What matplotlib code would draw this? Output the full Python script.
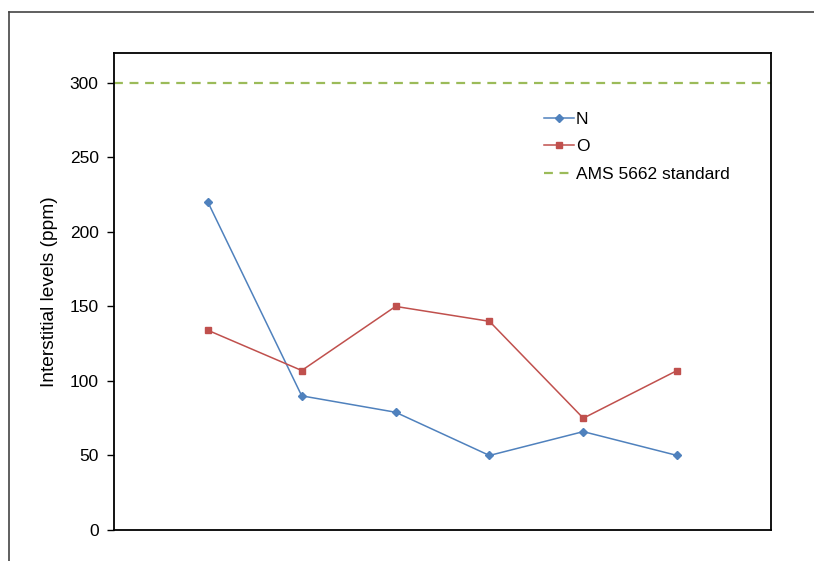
import matplotlib
matplotlib.use("Agg")
import matplotlib.pyplot as plt
from matplotlib.lines import Line2D

plt.rcParams['font.family'] = ['Liberation Sans', 'DejaVu Sans']

positions = [1, 2, 3, 4, 5, 6]
n_values = [220, 90, 79, 50, 66, 50]
o_values = [134, 107, 150, 140, 75, 107]
standard = 300
yticks = [0, 50, 100, 150, 200, 250, 300]

W, H = 814, 561
fig = plt.figure(figsize=(W / 100, H / 100), dpi=100)
ax = fig.add_axes([114 / W, 1 - 530 / H, (771 - 114) / W, (530 - 53) / H])

ax.plot(positions, n_values, color='#4F81BD', marker='D', markersize=4, lw=1.1, label='N')
ax.plot(positions, o_values, color='#C0504D', marker='s', markersize=5, lw=1.1, label='O')
ax.axhline(standard, color='#9BBB59', lw=1.6, ls=(0, (4, 3)), label='AMS 5662 standard')

ax.set_xlim(0, 7)
ax.set_ylim(0, 320)
ax.set_xticks([])
ax.set_yticks(yticks)
ax.tick_params(axis='y', direction='out', length=5, width=1, labelsize=12.5, pad=6)
for s in ax.spines.values():
    s.set_linewidth(1.3)
    s.set_color('black')
ax.set_ylabel('Interstitial levels (ppm)', fontsize=13.8, labelpad=8)

ax.legend(loc='upper left', bbox_to_anchor=(0.63, 0.91), frameon=False, fontsize=12.5,
          handlelength=1.75, handletextpad=0.1, labelspacing=0.72)

# outer frame (partially visible)
fig.add_artist(Line2D([9 / W, 9 / W], [0, 1 - 12 / H], transform=fig.transFigure, color='#444444', lw=1.2))
fig.add_artist(Line2D([9 / W, 1], [1 - 12 / H, 1 - 12 / H], transform=fig.transFigure, color='#444444', lw=1.2))

fig.savefig('out.png', dpi=100, facecolor='white')
